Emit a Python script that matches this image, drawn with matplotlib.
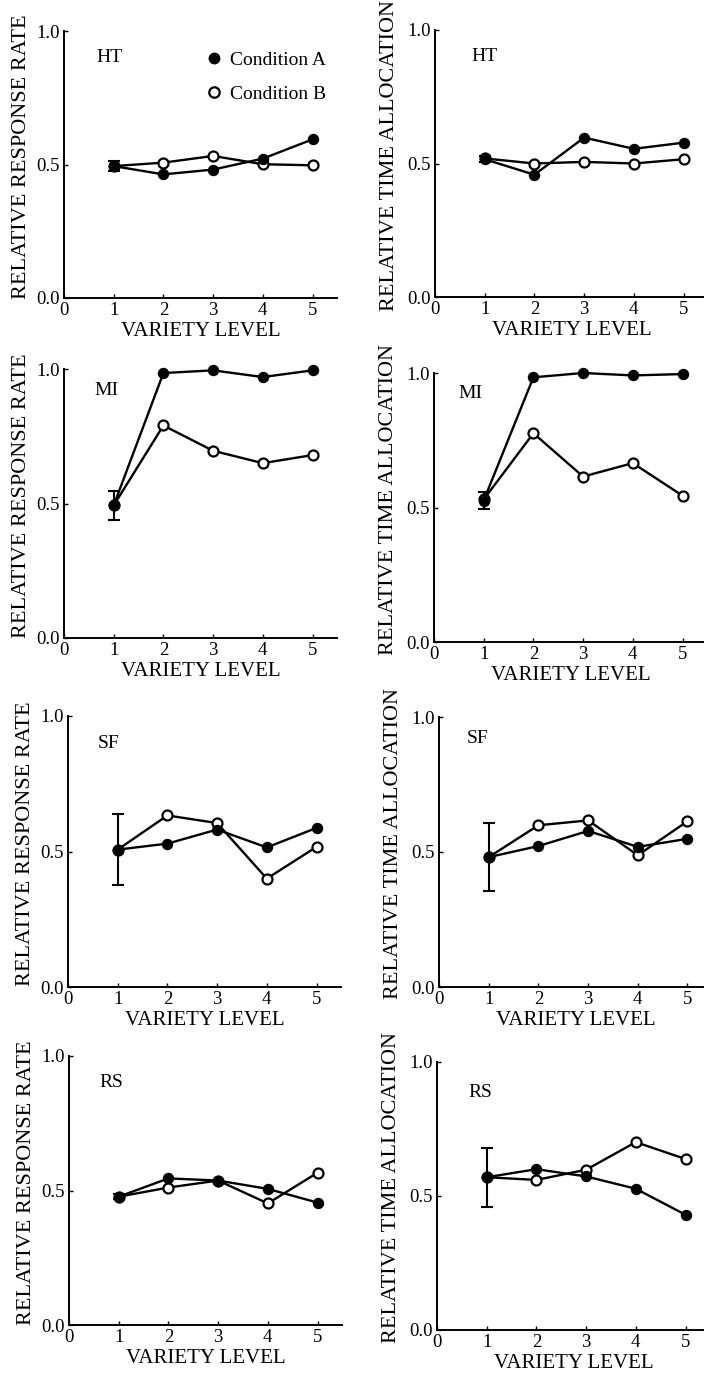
import matplotlib
matplotlib.use('Agg')
import matplotlib.pyplot as plt
from matplotlib.lines import Line2D

plt.rcParams['font.family'] = ['Liberation Serif', 'DejaVu Serif']

levels = [1, 2, 3, 4, 5]
subjects = ['HT', 'MI', 'SF', 'RS']

# relative response rate (left column)
ht_rate_a = [0.494, 0.463, 0.481, 0.522, 0.594]
ht_rate_b = [0.494, 0.507, 0.532, 0.501, 0.497]
mi_rate_a = [0.493, 0.985, 0.995, 0.970, 0.995]
mi_rate_b = [0.493, 0.790, 0.696, 0.650, 0.680]
sf_rate_a = [0.507, 0.529, 0.581, 0.515, 0.587]
sf_rate_b = [0.507, 0.633, 0.605, 0.400, 0.517]
rs_rate_a = [0.477, 0.545, 0.537, 0.506, 0.455]
rs_rate_b = [0.477, 0.511, 0.537, 0.452, 0.566]
rate_err = [0.018, 0.053, 0.130, 0.010]

# relative time allocation (right column)
ht_time_a = [0.516, 0.458, 0.597, 0.555, 0.578]
ht_time_b = [0.519, 0.500, 0.506, 0.500, 0.516]
mi_time_a = [0.526, 0.984, 1.000, 0.991, 0.996]
mi_time_b = [0.530, 0.776, 0.615, 0.665, 0.544]
sf_time_a = [0.481, 0.522, 0.578, 0.519, 0.549]
sf_time_b = [0.481, 0.599, 0.617, 0.488, 0.614]
rs_time_a = [0.570, 0.600, 0.573, 0.527, 0.430]
rs_time_b = [0.570, 0.560, 0.598, 0.701, 0.638]
time_err = [0.012, 0.033, 0.127, 0.110]

rate_a = [ht_rate_a, mi_rate_a, sf_rate_a, rs_rate_a]
rate_b = [ht_rate_b, mi_rate_b, sf_rate_b, rs_rate_b]
time_a = [ht_time_a, mi_time_a, sf_time_a, rs_time_a]
time_b = [ht_time_b, mi_time_b, sf_time_b, rs_time_b]

W, H = 704, 1377
fig = plt.figure(figsize=(W / 100, H / 100), dpi=100)

# pixel boxes (left, top, bottom) for each panel
left_boxes = [(64, 31, 298), (64, 369, 638), (68, 716, 987), (69, 1056, 1325)]
right_boxes = [(435, 30, 297), (434, 373, 642), (439, 717, 987), (437, 1062, 1330)]
label_pos = [(0.65, 0.90), (0.62, 0.92), (0.60, 0.90), (0.62, 0.90)]
label_pos_r = [(0.74, 0.90), (0.50, 0.925), (0.56, 0.92), (0.64, 0.885)]
unit_px = 49.7


def make_axes(box):
    x0, top, bot = box
    w = 5.5 * unit_px
    return fig.add_axes([x0 / W, 1 - bot / H, w / W, (bot - top) / H])


def draw_panel(ax, ya, yb, err, name, lpos, ylabel, label_x):
    ax.plot(levels, yb, '-o', color='black', lw=1.7, ms=7.2, mfc='white',
            mec='black', mew=1.6, clip_on=False, zorder=3)
    ax.plot(levels, ya, '-o', color='black', lw=1.7, ms=7.2, mfc='black',
            mec='black', clip_on=False, zorder=4)
    ax.errorbar(levels[0], ya[0], yerr=err, color='black', lw=1.5,
                capsize=4.5, capthick=1.5, zorder=5)
    ax.set_xlim(0, 5.5)
    ax.set_ylim(0, 1.0)
    ax.set_xticks([0, 1, 2, 3, 4, 5])
    ax.set_yticks([0.0, 0.5, 1.0])
    ax.set_yticklabels(['0.0', '0.5', '1.0'])
    ax.spines['top'].set_visible(False)
    ax.spines['right'].set_visible(False)
    ax.spines['left'].set_linewidth(1.4)
    ax.spines['bottom'].set_linewidth(1.4)
    ax.tick_params(direction='in', length=3, width=1, labelsize=13.5, pad=3)
    ax.set_xlabel('VARIETY LEVEL', fontsize=15, labelpad=2)
    ax.set_ylabel(ylabel, fontsize=16)
    ax.yaxis.set_label_coords(label_x, 0.53)
    ax.text(lpos[0], lpos[1], name, fontsize=14, va='center', ha='left',
            transform=ax.transData)


for i, name in enumerate(subjects):
    ax = make_axes(left_boxes[i])
    draw_panel(ax, rate_a[i], rate_b[i], rate_err[i], name, label_pos[i],
               'RELATIVE RESPONSE RATE', -0.12)
    if i == 0:
        handles = [
            Line2D([], [], marker='o', ls='none', ms=7.5, mfc='black', mec='black'),
            Line2D([], [], marker='o', ls='none', ms=7.5, mfc='white', mec='black', mew=1.6),
        ]
        ax.legend(handles, ['Condition A', 'Condition B'], loc='upper left',
                  bbox_to_anchor=(0.515, 0.925), frameon=False, fontsize=14,
                  handlelength=1.0, handletextpad=0.3, borderpad=0,
                  borderaxespad=0, labelspacing=0.85)
    ax = make_axes(right_boxes[i])
    draw_panel(ax, time_a[i], time_b[i], time_err[i], name, label_pos_r[i],
               'RELATIVE TIME ALLOCATION', -0.13)

fig.savefig('out.png', dpi=100)
